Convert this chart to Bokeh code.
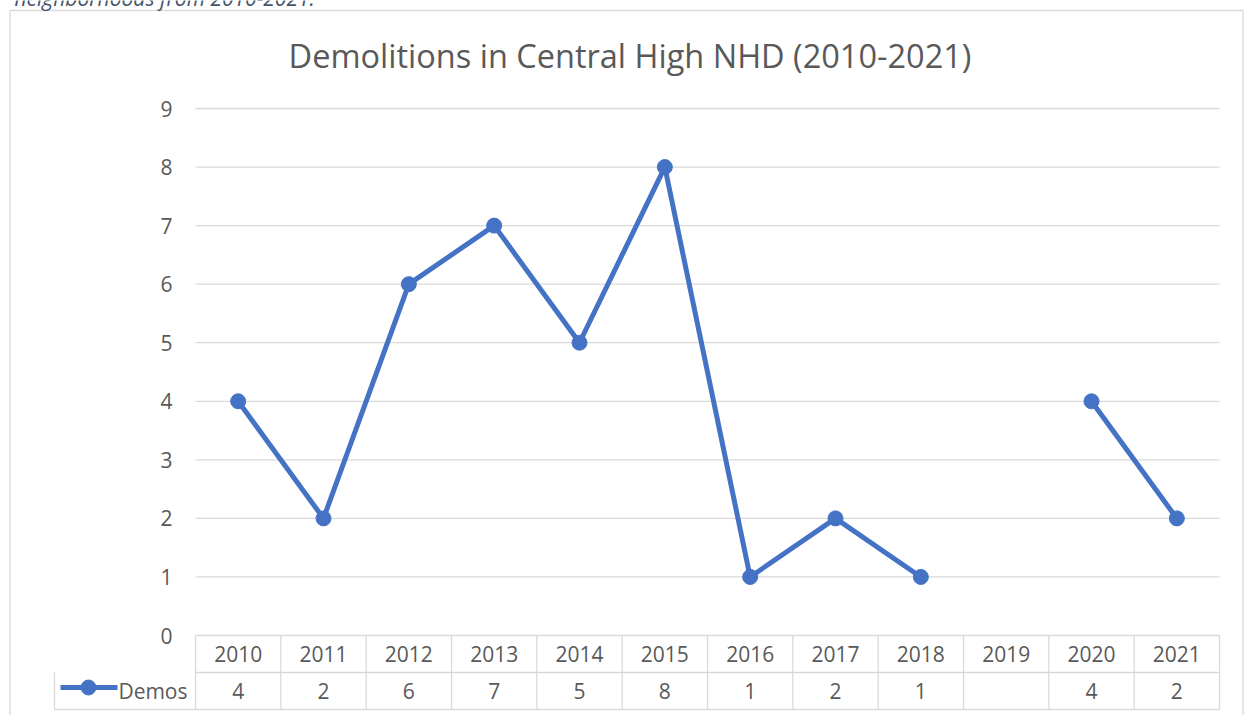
from bokeh.plotting import figure
from bokeh.models import Range1d
from bokeh.embed import file_html
from bokeh.resources import INLINE
from bokeh.core.properties import value
import numpy as np

# ---- data ----
years = ["2010", "2011", "2012", "2013", "2014", "2015",
         "2016", "2017", "2018", "2019", "2020", "2021"]
demos = [4, 2, 6, 7, 5, 8, 1, 2, 1, None, 4, 2]
y_ticks = [0, 1, 2, 3, 4, 5, 6, 7, 8, 9]
series_name = "Demos"
title_text = "Demolitions in Central High NHD (2010-2021)"
caption_text = "neighborhoods from 2010-2021."

# ---- layout (pixels) ----
W, H = 1244, 715
BL, BT, BR = 9.5, 10, 1242.5               # chart border
PL, PR, P0, P9 = 195, 1219, 635, 108       # plot area: x edges, y=0, y=9
ROW1, ROW2 = 672, 709                      # table row bottoms
LEG_L = 54                                 # legend cell left edge

n = len(years)
ppx = (PR - PL) / n
ppy = (P0 - P9) / (y_ticks[-1] - y_ticks[0])

def dx(px):
    return -0.5 + (px - PL) / ppx

def dy(py):
    return (P0 - py) / ppy

FONT = value("Open Sans")
GREY_TXT = "#595959"
GRID = "#d9d9d9"
BLUE = "#4472C4"

p = figure(width=W, height=H, output_backend="svg", toolbar_location=None,
           x_range=Range1d(dx(0), dx(W)), y_range=Range1d(dy(H), dy(0)),
           min_border_left=0, min_border_right=0,
           min_border_top=0, min_border_bottom=0)
p.axis.visible = False
p.grid.visible = False
p.outline_line_color = None
p.background_fill_color = "white"
p.border_fill_color = "white"

xs = np.arange(n)

# chart border (bottom edge is cut off by the window)
p.segment(x0=[dx(BL), dx(BL), dx(BR)], x1=[dx(BR), dx(BL), dx(BR)],
          y0=[dy(BT), dy(BT), dy(BT)], y1=[dy(BT), dy(H + 5), dy(H + 5)],
          line_color=GRID, line_width=1.3)

# gridlines
p.segment(x0=[-0.5] * len(y_ticks), x1=[n - 0.5] * len(y_ticks),
          y0=y_ticks, y1=y_ticks, line_color=GRID, line_width=1.3)

# y tick labels
p.text(x=[dx(PL - 23)] * len(y_ticks), y=y_ticks, text=[str(t) for t in y_ticks],
       text_font=FONT, text_font_size="21px", text_color=GREY_TXT,
       text_align="right", text_baseline="middle")

# data table lines
r1, r2 = dy(ROW1), dy(ROW2)
p.segment(x0=[dx(PL), dx(LEG_L)], x1=[n - 0.5, n - 0.5], y0=[r1, r2], y1=[r1, r2],
          line_color=GRID, line_width=1.3)
vx = list(np.arange(n + 1) - 0.5)
p.segment(x0=vx, x1=vx, y0=[0] * len(vx), y1=[r2] * len(vx),
          line_color=GRID, line_width=1.3)
p.segment(x0=[dx(LEG_L)], x1=[dx(LEG_L)], y0=[r1], y1=[r2],
          line_color=GRID, line_width=1.3)

# table texts
p.text(x=xs, y=[(0 + r1) / 2] * n, text=years, text_font=FONT, text_font_size="21px",
       text_color=GREY_TXT, text_align="center", text_baseline="middle")
vals_x = [i for i, v in enumerate(demos) if v is not None]
vals_t = [str(v) for v in demos if v is not None]
p.text(x=vals_x, y=[(r1 + r2) / 2] * len(vals_x), text=vals_t, text_font=FONT,
       text_font_size="21px", text_color=GREY_TXT, text_align="center",
       text_baseline="middle")

# legend key in table
ly = dy(ROW1 + 15)
p.line(x=[dx(60), dx(117)], y=[ly, ly], line_color=BLUE, line_width=5)
p.scatter(x=[dx(88)], y=[ly], size=15, color=BLUE)
p.text(x=[dx(187)], y=[(r1 + r2) / 2], text=[series_name], text_font=FONT,
       text_font_size="21px", text_color=GREY_TXT, text_align="right",
       text_baseline="middle")

# series
yv = [np.nan if v is None else v for v in demos]
p.line(x=xs, y=yv, line_color=BLUE, line_width=5, line_join="round")
p.scatter(x=vals_x, y=[v for v in demos if v is not None], size=15, color=BLUE)

# title
p.text(x=[dx(629.5)], y=[dy(55)], text=[title_text], text_font=FONT,
       text_font_size="32.5px", text_color=GREY_TXT, text_align="center",
       text_baseline="middle")

# caption (cut at the top of the window, as in the reference)
p.text(x=[dx(14)], y=[dy(-3)], text=[caption_text], text_font=FONT,
       text_font_style="italic", text_font_size="21px", text_color="#44546A",
       text_align="left", text_baseline="middle")

open("out.html", "w").write(file_html(p, INLINE))
